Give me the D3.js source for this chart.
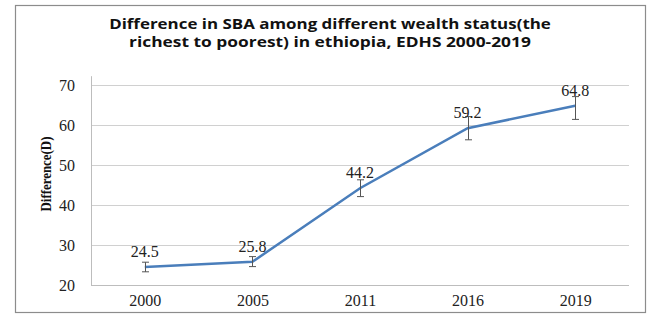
<!DOCTYPE html>
<html><head><meta charset="utf-8">
<script src="https://cdn.jsdelivr.net/npm/d3@7"></script>
<style>body{margin:0;background:#fff}svg{display:block}</style>
</head><body>
<svg id="c" width="661" height="322"></svg>
<script>
const years = ["2000","2005","2011","2016","2019"];
const values = [24.5, 25.8, 44.2, 59.2, 64.8];
const lower = [23.3, 24.6, 42.1, 56.3, 61.4];
const upper = [25.7, 27.1, 46.3, 62.1, 67.1];
const yTicks = [20, 30, 40, 50, 60, 70];
const titleLines = ["Difference in SBA among different wealth status(the", "richest to poorest) in ethiopia, EDHS 2000-2019"];
const yTitle = "Difference(D)";

const svg = d3.select("#c");
const W = 661, H = 322;
const m = {left: 91, right: 32, top: 85, bottom: 37};
const serif = "Liberation Serif, Times New Roman, serif";

svg.append("rect").attr("x", 15.5).attr("y", 5.5).attr("width", 630).attr("height", 307)
  .attr("fill", "#fff").attr("stroke", "#8c8c8c").attr("stroke-width", 1.2);

const x = d3.scalePoint().domain(years).range([m.left, W - m.right]).padding(0.5);
const y = d3.scaleLinear().domain([20, 70]).range([H - m.bottom, m.top]);

// gridlines
svg.append("g").selectAll("line").data(yTicks.slice(1)).join("line")
  .attr("x1", m.left).attr("x2", W - m.right)
  .attr("y1", d => Math.round(y(d)) + 0.5).attr("y2", d => Math.round(y(d)) + 0.5)
  .attr("stroke", "#d0d0d0").attr("stroke-width", 1);

// y axis
const yAxis = svg.append("g").attr("transform", `translate(${m.left},0)`)
  .call(d3.axisLeft(y).tickValues(yTicks).tickSize(0).tickPadding(16));
yAxis.select(".domain").remove();
yAxis.append("line").attr("x1", 0.5).attr("x2", 0.5).attr("y1", y(72.2)).attr("y2", y(20))
  .attr("stroke", "#bdbdbd");
yAxis.selectAll("text").attr("font-family", serif)
  .attr("font-size", 16).attr("fill", "#222");

// x axis
const xAxis = svg.append("g").attr("transform", `translate(0,${Math.round(y(20)) + 0.5})`)
  .call(d3.axisBottom(x).tickSize(0).tickPadding(9));
xAxis.select(".domain").attr("stroke", "#bdbdbd").attr("d", `M${m.left},0H${W - m.right}`);
xAxis.selectAll("text").attr("font-family", serif)
  .attr("font-size", 16).attr("fill", "#222");

// line
svg.append("path").datum(values)
  .attr("d", d3.line().x((d, i) => x(years[i])).y(d => y(d)))
  .attr("fill", "none").attr("stroke", "#4a7ebb").attr("stroke-width", 2.5);

// error bars
const eb = svg.append("g").attr("stroke", "#555").attr("stroke-width", 1);
years.forEach((yr, i) => {
  const cx = Math.round(x(yr)) + 0.5;
  eb.append("line").attr("x1", cx).attr("x2", cx).attr("y1", y(lower[i])).attr("y2", y(upper[i]));
  eb.append("line").attr("x1", cx - 3.5).attr("x2", cx + 3.5).attr("y1", y(lower[i])).attr("y2", y(lower[i]));
  eb.append("line").attr("x1", cx - 3.5).attr("x2", cx + 3.5).attr("y1", y(upper[i])).attr("y2", y(upper[i]));
});

// data labels
svg.append("g").selectAll("text").data(values).join("text")
  .attr("x", (d, i) => x(years[i])).attr("y", d => y(d) - 10)
  .attr("text-anchor", "middle").attr("font-family", serif)
  .attr("font-size", 16).attr("fill", "#222").text(d => d.toFixed(1));

// y title
svg.append("text").attr("transform", `translate(51,${(y(20) + y(70)) / 2 - 11}) rotate(-90)`)
  .attr("text-anchor", "middle").attr("font-family", serif)
  .attr("font-weight", "bold").attr("font-size", 14).attr("fill", "#111")
  .attr("textLength", 75).attr("lengthAdjust", "spacingAndGlyphs").text(yTitle);

// title (horizontally stretched like the reference)
const titleWidths = [442, 402];
titleLines.forEach((t, i) => {
  const g = svg.append("g");
  const txt = g.append("text").attr("x", 0).attr("y", 0)
    .attr("text-anchor", "middle").attr("font-family", "Open Sans, sans-serif")
    .attr("font-weight", "bold").attr("font-size", 14.5).attr("fill", "#111").text(t);
  const w = txt.node().getComputedTextLength();
  g.attr("transform", `translate(330,${28.5 + i * 18.2}) scale(${titleWidths[i] / w},1)`);
});
</script>
</body></html>
